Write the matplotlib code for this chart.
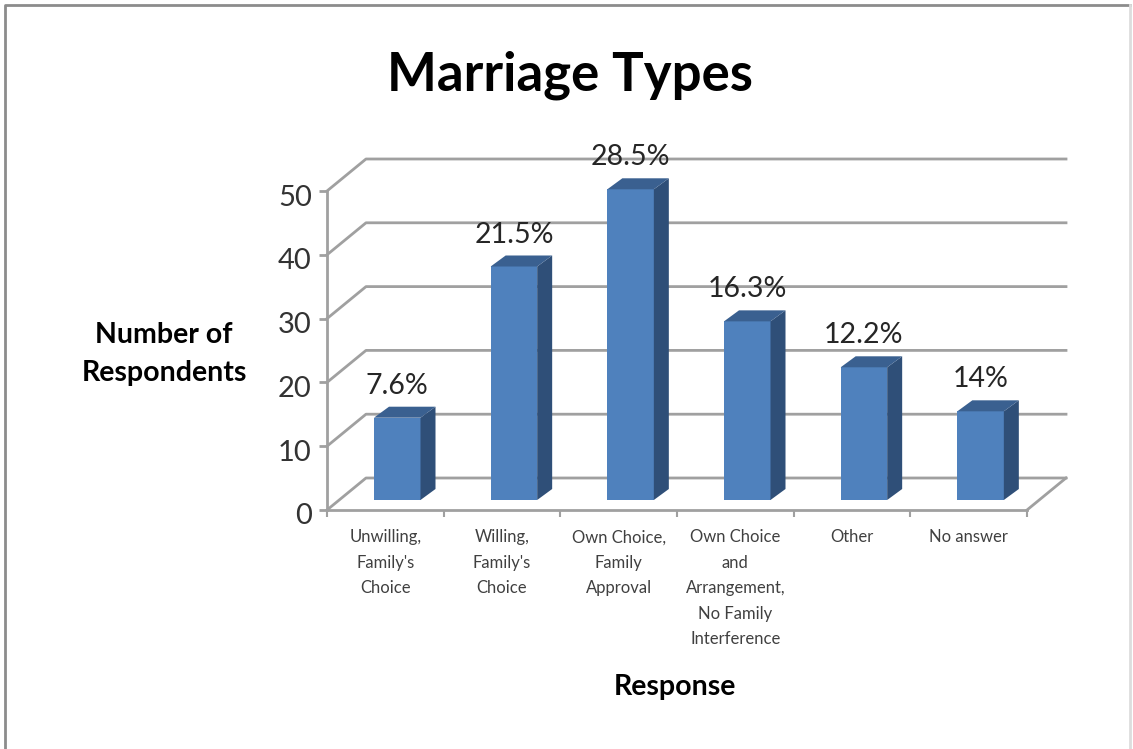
import matplotlib
matplotlib.use("Agg")
import matplotlib.pyplot as plt
from matplotlib.patches import Polygon, Rectangle
from matplotlib.lines import Line2D
from matplotlib.transforms import ScaledTranslation

categories = ["Unwilling,\nFamily's\nChoice", "Willing,\nFamily's\nChoice",
              "Own Choice,\nFamily\nApproval",
              "Own Choice\nand\nArrangement,\nNo Family\nInterference",
              "Other", "No answer"]
counts = [12.9, 36.6, 48.7, 28, 20.8, 13.9]
percent_labels = ["7.6%", "21.5%", "28.5%", "16.3%", "12.2%", "14%"]
y_ticks = [0, 10, 20, 30, 40, 50]

W, H = 1133, 749
FRONT = "#4F81BD"; SIDE = "#2F4F78"; TOP = "#3A6090"; GRID = "#A0A0A0"
plt.rcParams["font.family"] = ["Lato", "DejaVu Sans"]

fig = plt.figure(figsize=(W / 100, H / 100), dpi=100, facecolor="white")
L, R, B, T = 327, 1027, 510, 191
ax = fig.add_axes([L / W, 1 - B / H, (R - L) / W, (B - T) / H])
ax.set_xlim(0, len(counts))
ax.set_ylim(0, 50)
ax.set_facecolor("none")

px = len(counts) / (R - L)      # data units per pixel, x
py = 50 / (B - T)               # data units per pixel, y
wall_dx, wall_dy = 39 * px, 32 * py
bar_w = 46.5 * px
bar_dx, bar_dy = 15 * px, 11 * py
inset_x, inset_y = 47 * px, 10 * py

for s in ("top", "right"):
    ax.spines[s].set_visible(False)
for s in ("left", "bottom"):
    ax.spines[s].set_color(GRID)
    ax.spines[s].set_linewidth(2)

# receding walls and floor
for v in y_ticks:
    ax.add_line(Line2D([0, wall_dx, len(counts) + wall_dx], [v, v + wall_dy, v + wall_dy],
                       color=GRID, lw=2, clip_on=False, zorder=1))
ax.add_line(Line2D([len(counts), len(counts) + wall_dx], [0, wall_dy],
                   color=GRID, lw=2, clip_on=False, zorder=1))

for i, (v, lab) in enumerate(zip(counts, percent_labels)):
    x0 = i + inset_x
    y0 = inset_y
    y1 = y0 + v
    x1 = x0 + bar_w
    ax.add_patch(Rectangle((x0, y0), bar_w, v, fc=FRONT, ec="none", clip_on=False, zorder=3))
    ax.add_patch(Polygon([(x1, y0), (x1 + bar_dx, y0 + bar_dy), (x1 + bar_dx, y1 + bar_dy), (x1, y1)],
                         fc=SIDE, ec="none", clip_on=False, zorder=3))
    ax.add_patch(Polygon([(x0, y1), (x1, y1), (x1 + bar_dx, y1 + bar_dy), (x0 + bar_dx, y1 + bar_dy)],
                         fc=TOP, ec="none", clip_on=False, zorder=3))
    ax.annotate(lab, xy=(x0 + bar_w / 2, y1), xytext=(0, 23), textcoords="offset points",
                ha="center", va="center", fontsize=20.5, color="#262626", zorder=4,
                annotation_clip=False)

ax.set_yticks(y_ticks)
ax.tick_params(axis="y", length=6, width=2, color=GRID, labelsize=21, labelcolor="#333333", pad=5)
shift = ScaledTranslation(0, -4 / 100, fig.dpi_scale_trans)
for t in ax.get_yticklabels():
    t.set_transform(t.get_transform() + shift)
ax.set_xticks(range(len(counts) + 1))
ax.set_xticklabels([])
ax.tick_params(axis="x", which="major", length=5, width=1.5, color=GRID)
ax.set_xticks([i + 0.5 for i in range(len(counts))], minor=True)
ax.set_xticklabels(categories, minor=True, fontsize=12, color="#404040", linespacing=1.72)
ax.tick_params(axis="x", which="minor", length=0, pad=14)

def ftext(x, y, s, **kw):
    fig.text(x / W, 1 - y / H, s, ha="center", va="center", **kw)

ftext(570, 75, "Marriage Types", fontsize=38, fontweight="bold", color="black")
ftext(164, 354, "Number of\nRespondents", fontsize=20.5, fontweight="bold", color="black", linespacing=1.6)
ftext(675, 687, "Response", fontsize=20.5, fontweight="bold", color="black")

# picture frame
fig.add_artist(Line2D([5 / W, 5 / W, 1130 / W], [0, 1 - 5 / H, 1 - 5 / H], color="#8C8C8C", lw=2))
fig.add_artist(Line2D([1130 / W, 1130 / W], [0, 1 - 5 / H], color="#DDDDDD", lw=2))
fig.savefig("out.png", dpi=100)
